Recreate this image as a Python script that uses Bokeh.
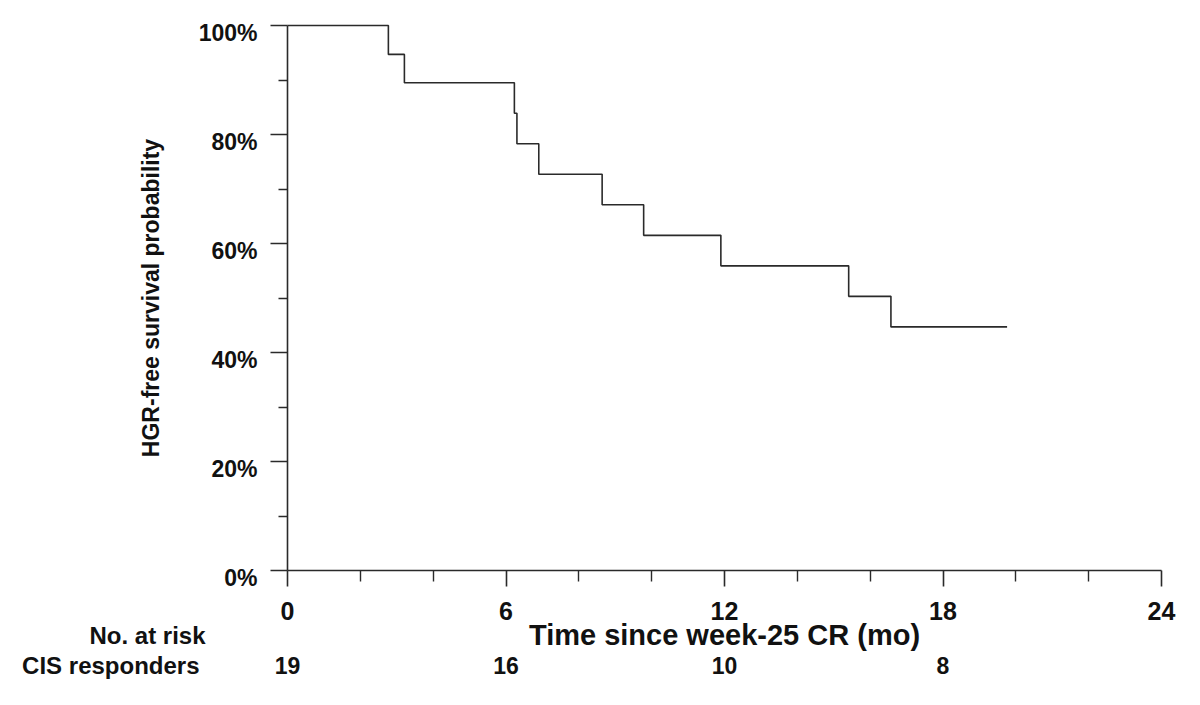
import math
from bokeh.plotting import figure
from bokeh.models import Range1d, FixedTicker, LinearAxis
from bokeh.core.properties import value
from bokeh.embed import file_html
from bokeh.resources import INLINE

# ---- data ----
times = [0, 2.77, 3.21, 6.23, 6.30, 6.90, 8.64, 9.78, 11.90, 15.41, 16.57, 19.76]
surv = [100, 94.7, 89.5, 83.9, 78.3, 72.7, 67.1, 61.5, 55.9, 50.3, 44.7, 44.7]

x_major = [0, 6, 12, 18, 24]
x_minor = [2, 4, 8, 10, 14, 16, 20, 22]
y_major = [0, 20, 40, 60, 80, 100]
y_minor = [10, 30, 50, 70, 90]
y_tick_labels = ["0%", "20%", "40%", "60%", "80%", "100%"]

risk_times = [0, 6, 12, 18]
risk_counts = ["19", "16", "10", "8"]
risk_header = "No. at risk"
risk_group = "CIS responders"

x_title = "Time since week-25 CR (mo)"
y_title = "HGR-free survival probability"

# ---- layout (pixels) ----
W, H = 1200, 705
X0_PX, X24_PX = 287, 1161      # where t=0 and t=24 fall
Y0_PX, Y100_PX = 570, 25       # where 0% and 100% fall
PX_X = (X24_PX - X0_PX) / 24.0
PX_Y = (Y0_PX - Y100_PX) / 100.0
TEXT_SHIFT = 9.5               # measured rendering offset of text glyphs

def ydata(py):
    return (Y0_PX - py) / PX_Y

FONT = "Liberation Sans"
INK = "#111111"
LINE = "#2a2a2a"

p = figure(width=W, height=H, output_backend="svg", toolbar_location=None,
           x_range=Range1d(-X0_PX / PX_X, 24 + (W - X24_PX) / PX_X),
           y_range=Range1d(ydata(H), ydata(0)),
           x_axis_location=None, y_axis_location=None,
           min_border=0)
p.outline_line_color = None
p.background_fill_color = "white"
p.border_fill_color = "white"
p.grid.visible = False

# step curve
p.step(times, surv, mode="after", line_color=LINE, line_width=1.6)

# x axis
xa = LinearAxis(fixed_location=0, bounds=(0, 24))
xa.ticker = FixedTicker(ticks=x_major, minor_ticks=x_minor)
xa.axis_line_color = LINE
xa.axis_line_width = 1.6
xa.major_tick_line_color = LINE
xa.major_tick_line_width = 1.6
xa.minor_tick_line_color = LINE
xa.minor_tick_line_width = 1.4
xa.major_tick_in = 0
xa.major_tick_out = 16
xa.minor_tick_in = 0
xa.minor_tick_out = 11
xa.major_label_text_font = FONT
xa.major_label_text_font_style = "bold"
xa.major_label_text_font_size = "25px"
xa.major_label_text_color = INK
xa.major_label_standoff = 15
xa.axis_label = x_title
xa.axis_label_text_font = FONT
xa.axis_label_text_font_style = "bold"
xa.axis_label_text_font_size = "29px"
xa.axis_label_text_color = INK
xa.axis_label_standoff = -4
p.add_layout(xa, "below")

# y axis
ya = LinearAxis(fixed_location=0, bounds=(0, 100))
ya.ticker = FixedTicker(ticks=y_major, minor_ticks=y_minor)
ya.axis_line_color = LINE
ya.axis_line_width = 1.6
ya.major_tick_line_color = LINE
ya.major_tick_line_width = 1.6
ya.minor_tick_line_color = LINE
ya.minor_tick_line_width = 1.4
ya.major_tick_in = 0
ya.major_tick_out = 17
ya.minor_tick_in = 0
ya.minor_tick_out = 9
ya.major_label_overrides = {v: "" for v in y_major}
ya.major_label_standoff = 0
ya.axis_label = y_title
ya.axis_label_text_font = FONT
ya.axis_label_text_font_style = "bold"
ya.axis_label_text_font_size = "23px"
ya.axis_label_text_color = INK
ya.axis_label_standoff = 107
p.add_layout(ya, "left")

# y tick labels hanging below their ticks (cap top level with the tick)
p.text(x=0, y=[v - (17 - TEXT_SHIFT) / PX_Y for v in y_major], text=y_tick_labels,
       x_offset=-30, text_align="right", text_baseline="alphabetic",
       text_font=value(FONT), text_font_style="bold",
       text_font_size="23px", text_color=INK)

# number-at-risk table
p.text(x=0, y=[ydata(644 - TEXT_SHIFT)], text=[risk_header], x_offset=-82,
       text_align="right", text_baseline="alphabetic",
       text_font=value(FONT), text_font_style="bold",
       text_font_size="24px", text_color=INK)
p.text(x=0, y=[ydata(674 - TEXT_SHIFT)], text=[risk_group], x_offset=-88,
       text_align="right", text_baseline="alphabetic",
       text_font=value(FONT), text_font_style="bold",
       text_font_size="24px", text_color=INK)
p.text(x=risk_times, y=ydata(674 - TEXT_SHIFT), text=risk_counts,
       text_align="center", text_baseline="alphabetic",
       text_font=value(FONT), text_font_style="bold",
       text_font_size="23px", text_color=INK)

open("out.html", "w").write(file_html(p, INLINE))
